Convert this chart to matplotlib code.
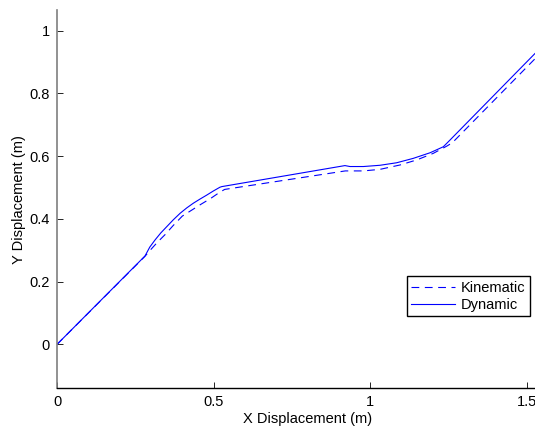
import matplotlib

matplotlib.use("Agg")
import matplotlib.pyplot as plt

# dynamic path (solid)
dyn_x = [0.0, 0.281, 0.296, 0.313, 0.331, 0.350, 0.371, 0.393, 0.414, 0.435,
         0.456, 0.478, 0.499, 0.520, 0.526, 0.919, 0.935, 0.978, 1.031, 1.084,
         1.137, 1.191, 1.233, 1.249, 1.60]
dyn_y = [0.0, 0.282, 0.310, 0.333, 0.355, 0.375, 0.397, 0.418, 0.435, 0.450,
         0.463, 0.476, 0.489, 0.501, 0.503, 0.570, 0.567, 0.567, 0.571, 0.579,
         0.593, 0.611, 0.630, 0.646, 1.003]

# kinematic path (dashed)
kin_x = [0.0, 0.280, 0.300, 0.320, 0.345, 0.370, 0.400, 0.430, 0.460, 0.490,
         0.515, 0.535, 0.920, 0.978, 1.031, 1.095, 1.148, 1.201, 1.244, 1.262,
         1.60]
kin_y = [0.0, 0.280, 0.303, 0.325, 0.350, 0.378, 0.409, 0.428, 0.447, 0.465,
         0.482, 0.494, 0.553, 0.553, 0.558, 0.572, 0.588, 0.609, 0.632, 0.643,
         0.986]

xticks = [0, 0.5, 1, 1.5]
xtick_labels = ["0", "0.5", "1", "1.5"]
yticks = [0, 0.2, 0.4, 0.6, 0.8, 1.0]
ytick_labels = ["0", "0.2", "0.4", "0.6", "0.8", "1"]

plt.rcParams.update({"font.size": 10.5,
                     "font.family": ["Liberation Sans", "DejaVu Sans"]})

fig = plt.figure(figsize=(5.35, 4.28), dpi=100)
ax = fig.add_axes([57 / 535, 39.7 / 428, 501.3 / 535, 378.3 / 428])

ax.plot(kin_x, kin_y, color="#0000ff", lw=0.8, dashes=(7, 5), label="Kinematic")
ax.plot(dyn_x, dyn_y, color="#0000ff", lw=0.8, label="Dynamic")

ax.set_xlim(0, 1.6)
ax.set_ylim(-0.14, 1.066)
ax.set_xticks(xticks)
ax.set_xticklabels(xtick_labels)
ax.set_yticks(yticks)
ax.set_yticklabels(ytick_labels)
ax.tick_params(direction="in", length=4, width=0.6, pad=5)

ax.spines["top"].set_visible(False)
ax.spines["right"].set_visible(False)
ax.spines["left"].set_color("#7f7f7f")
ax.spines["left"].set_linewidth(1.2)
ax.spines["bottom"].set_color("black")
ax.spines["bottom"].set_linewidth(1.0)

ax.set_xlabel("X Displacement (m)", labelpad=2)
ax.set_ylabel("Y Displacement (m)", labelpad=3)

leg = ax.legend(loc="lower right", bbox_to_anchor=(473 / 501.3, 72.3 / 378.3),
                borderaxespad=0, fancybox=False, framealpha=1,
                handlelength=3.0, handletextpad=0.4, borderpad=0.3,
                labelspacing=0.2)
leg.get_frame().set_edgecolor("black")
leg.get_frame().set_linewidth(1.0)

fig.savefig("out.png", dpi=100)
